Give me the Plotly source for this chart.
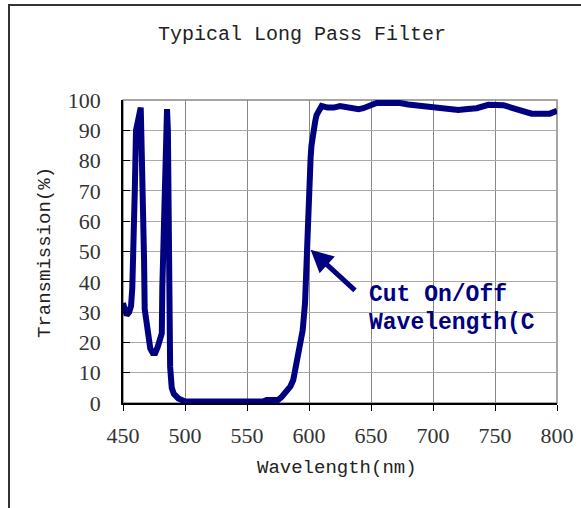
import plotly.graph_objects as go

wavelength = [450, 451.5, 453, 455, 456.5, 457.5, 458.3, 458.6, 459.5, 460.5, 462, 463.5, 464.3,
              465, 465.5, 466.3, 467, 467.5, 469, 470.5, 472, 474, 476, 478, 480, 481.3,
              481.7, 482.5, 483.5, 484.2, 484.7, 485.5, 486.2, 486.6, 487, 487.6, 488, 489.3,
              491, 494.6, 497, 500, 510, 520, 530, 540, 550, 560, 563, 565.8, 570, 575,
              578, 582, 585, 587.3, 589, 591.3, 593, 594.9, 596.8, 597.6, 598, 599.4, 600.2,
              601.3, 602, 603.4, 605, 606.1, 608, 610.2, 615, 620, 625, 630, 635.6, 640,
              643.8, 650, 654.5, 660, 665, 673.4, 680, 689.5, 700, 708.3, 715, 720.4, 728,
              735.2, 744.6, 750, 756.7, 763, 770, 775, 779.5, 785, 794.2, 800]
transmission = [33, 30.5, 29, 30, 32, 38, 46, 55, 70, 90, 94, 97, 97.5,
                85, 78, 62, 47, 31, 26, 20, 18, 16.5, 16.5, 18.5, 21, 23,
                38, 50, 65, 85, 96.5, 97, 90, 60, 39, 20, 12, 5,
                3, 1.5, 0.8, 0.5, 0.5, 0.5, 0.5, 0.5, 0.5, 0.5, 0.5, 1, 1, 1,
                2, 3.7, 5.5, 7.6, 11, 15, 19, 24, 33, 44, 51.5, 61, 72,
                81, 85, 90, 93, 95, 97, 98, 97.5, 97.5, 98, 97.5, 97, 97,
                97.3, 98, 99, 99, 99, 99, 98.5, 98, 97.7, 97.4, 97, 96.7, 97,
                97.3, 98.4, 98.5, 98.3, 97.5, 96.6, 96, 95.5, 95.5, 95.5, 96.4]

x_ticks = [450, 500, 550, 600, 650, 700, 750, 800]
y_ticks = [0, 10, 20, 30, 40, 50, 60, 70, 80, 90, 100]

title_text = "Typical Long Pass Filter"
x_title = "Wavelength(nm)"
y_title = "Transmission(%)"
note_lines = ["Cut On/Off", "Wavelength(C"]
arrow_head = (601.3, 50.6)
arrow_tail = (638.3, 36.7)
note_x = 646.8
note_y = [35.5, 26.5]

navy = "#000080"

fig = go.Figure()
fig.add_trace(go.Scatter(x=wavelength, y=transmission, mode="lines",
                         line=dict(color=navy, width=6), hoverinfo="skip",
                         showlegend=False))

annotations = [
    dict(text=title_text, xref="paper", yref="paper", x=(302 - 123) / 434, y=(403 - 35) / 303,
         xanchor="center", yanchor="middle", showarrow=False,
         font=dict(family="Liberation Mono", size=20, color="#222")),
    dict(text=x_title, xref="paper", yref="paper", x=(337 - 123) / 434, y=(403 - 468) / 303,
         xanchor="center", yanchor="middle", showarrow=False,
         font=dict(family="Liberation Mono", size=19, color="#222")),
    dict(text=y_title, xref="paper", yref="paper", x=(45 - 123) / 434, y=(403 - 253) / 303,
         xanchor="center", yanchor="middle", showarrow=False, textangle=-90,
         font=dict(family="Liberation Mono", size=19, color="#222")),
    dict(x=arrow_head[0], y=arrow_head[1], ax=arrow_tail[0], ay=arrow_tail[1],
         xref="x", yref="y", axref="x", ayref="y", text="", showarrow=True,
         arrowhead=2, arrowsize=0.9, arrowwidth=5, arrowcolor=navy),
]
for line, yy in zip(note_lines, note_y):
    annotations.append(dict(text="<b>%s</b>" % line, x=note_x, y=yy, xref="x", yref="y",
                            xanchor="left", yanchor="middle", showarrow=False,
                            font=dict(family="Liberation Mono", size=23, color=navy)))

fig.update_layout(
    width=581, height=508,
    margin=dict(l=123, r=24, t=100, b=105, autoexpand=False),
    paper_bgcolor="white", plot_bgcolor="white",
    annotations=annotations,
    shapes=[
        dict(type="rect", xref="paper", yref="paper",
             x0=(9 - 123) / 434, x1=(620 - 123) / 434,
             y0=(403 - 540) / 303, y1=(403 - 5) / 303,
             line=dict(color="#333", width=2), layer="below"),
        dict(type="rect", xref="paper", yref="paper", x0=0, x1=1, y0=0, y1=1,
             line=dict(color="#888", width=1.5), layer="below"),
    ],
    xaxis=dict(range=[450, 800], tickvals=x_ticks, ticktext=[str(v) for v in x_ticks],
               showgrid=True, gridcolor="#888", gridwidth=1, zeroline=False,
               showline=True, linecolor="black", linewidth=1.5, automargin=False,
               ticks="outside", ticklen=6, tickcolor="black",
               ticklabelstandoff=6,
               tickfont=dict(family="Liberation Serif", size=22, color="#333")),
    yaxis=dict(range=[0, 100], tickvals=y_ticks, ticktext=[str(v) for v in y_ticks],
               showgrid=True, gridcolor="#aaa", gridwidth=1, zeroline=False,
               showline=True, linecolor="black", linewidth=1.5, automargin=False,
               ticks="inside", ticklen=7, tickcolor="black",
               ticklabelstandoff=16,
               tickfont=dict(family="Liberation Serif", size=22, color="#333")),
)

fig.write_html("out.html")
